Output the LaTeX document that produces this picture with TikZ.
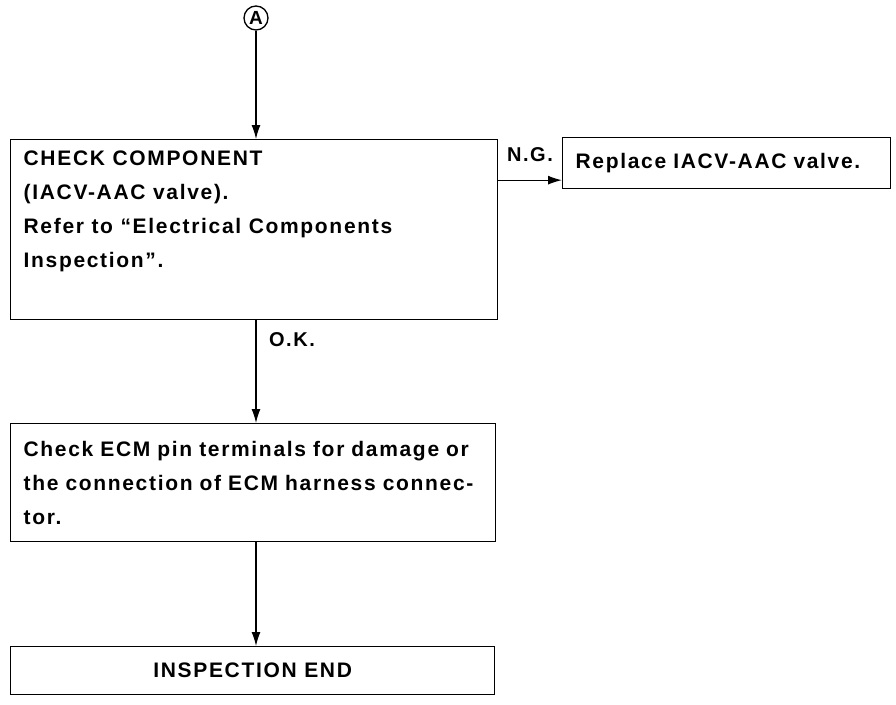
\documentclass[tikz,border=0pt]{standalone}
\usepackage{fontspec}
\setmainfont{Liberation Sans}
\newfontfamily\flowfont[LetterSpace=8]{Liberation Sans}
\usetikzlibrary{arrows.meta}

\tikzset{
  stepbox/.style={draw, line width=1.3pt, anchor=north west, inner xsep=13pt,
    align=left, font=\flowfont\bfseries\fontsize{21}{34}\selectfont},
  arr/.style={line width=1.3pt, -{Latex[length=14pt,width=9pt]}},
  lbl/.style={font=\flowfont\bfseries\fontsize{20}{22}\selectfont}
}

\begin{document}
\begin{tikzpicture}[x=1pt, y=-1pt]
  \useasboundingbox (0,0) rectangle (896,704);
  \node[draw, circle, line width=1.3pt, inner sep=0pt, minimum size=24pt,
    font=\fontsize{19}{19}\selectfont\bfseries] (A) at (256,18) {A};
  \node[stepbox, inner ysep=11pt] (chk) at (10,139)
    {\begin{minipage}[t][158pt][t]{461pt}
      CHECK COMPONENT\\
      (IACV-AAC valve).\\
      Refer to “Electrical Components\\
      Inspection”.
    \end{minipage}};
  \node[stepbox, text width=302pt, minimum height=51pt] (rep) at (562,137)
    {Replace IACV-AAC valve.};
  \node[stepbox, text width=459pt, minimum height=118pt] (ecm) at (10,423)
    {Check ECM pin terminals for damage or\\
     the connection of ECM harness connec-\\
     tor.};
  \node[stepbox, align=center, minimum width=484pt, minimum height=48pt] (end) at (10,646)
    {INSPECTION END};
  \coordinate (ng) at ([yshift=-17pt]rep.west);
  \draw[arr] (A) -- (chk.north -| A);
  \draw[arr] (chk.east |- ng) -- (ng);
  \draw[arr] (chk.south -| A) -- (ecm.north -| A);
  \draw[arr] (ecm.south -| A) -- (end.north -| A);
  \node[lbl] (ngl) at (530,155) {N.G.};
  \node[lbl] (okl) at (292,340) {O.K.};
\end{tikzpicture}
\end{document}
